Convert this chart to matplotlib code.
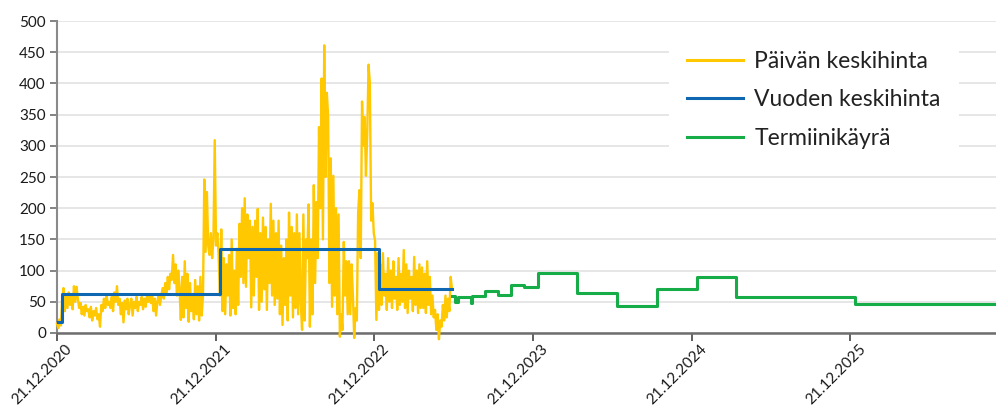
import matplotlib
matplotlib.use("Agg")
import matplotlib.pyplot as plt
import numpy as np
import pandas as pd

# ---------------- data ----------------
daily_start = "2020-12-21"
daily_step_days = 3
daily_values = [
    15, 8, 22, 12, 55, 72, 35, 62,
    40, 65, 45, 58, 38, 75, 50, 74,
    55, 40, 48, 30, 42, 28, 45, 35,
    38, 25, 42, 20, 35, 28, 40, 22,
    30, 10, 45, 35, 55, 40, 62, 45,
    50, 40, 58, 35, 65, 50, 75, 45,
    55, 30, 48, 17, 52, 38, 55, 30,
    45, 55, 28, 50, 40, 58, 35, 50,
    45, 58, 38, 55, 42, 60, 50, 62,
    48, 60, 35, 55, 28, 50, 62, 45,
    58, 72, 55, 80, 65, 90, 70, 95,
    85, 125, 80, 110, 60, 100, 70, 21,
    90, 25, 115, 40, 95, 18, 80, 35,
    60, 22, 85, 30, 75, 20, 90, 28,
    60, 246, 130, 226, 140, 125, 160, 120,
    150, 309, 140, 160, 125, 60, 166, 35,
    120, 30, 110, 60, 125, 28, 150, 40,
    100, 30, 135, 45, 175, 90, 200, 80,
    216, 74, 190, 120, 180, 41, 170, 60,
    180, 90, 199, 37, 160, 50, 185, 70,
    170, 37, 150, 80, 207, 60, 180, 45,
    160, 55, 180, 30, 140, 13, 120, 45,
    150, 20, 193, 60, 170, 25, 160, 40,
    190, 30, 160, 50, 5, 190, 20, 150,
    120, 206, 10, 150, 30, 237, 80, 210,
    120, 330, 200, 408, 150, 461, 250, 385,
    347, 80, 280, 42, 252, 60, 200, 30,
    190, -6, 30, 5, 146, 60, 115, 30,
    115, 30, 110, 60, -8, 40, 20, 192,
    229, 120, 371, 300, 346, 252, 320, 430,
    400, 180, 208, 160, 148, 21, 128, 37,
    110, 45, 128, 60, 95, 37, 120, 50,
    100, 40, 115, 55, 90, 37, 120, 45,
    95, 50, 133, 40, 110, 32, 100, 55,
    90, 35, 122, 45, 100, 32, 110, 40,
    105, 40, 95, 32, 115, 45, 90, 30,
    60, 25, 37, 5, 30, -10, 20, 10,
    45, 20, 60, 25, 55, 35, 90, 70,
]

year_dates = ["2020-12-21", "2021-01-01", "2022-01-01", "2023-01-01", "2023-06-19"]
year_values = [17, 62, 135, 71, 71]

fwd_dates = ["2023-06-19", "2023-06-24", "2023-07-03", "2023-07-31", "2023-08-02",
             "2023-09-01", "2023-10-01", "2023-11-01", "2023-12-01", "2024-01-01",
             "2024-04-01", "2024-07-01", "2024-10-01", "2025-01-01", "2025-04-01",
             "2026-01-01", "2026-11-21"]
fwd_values = [60, 50, 58, 48, 59, 67, 61, 77, 74, 96, 64.5, 44, 70.5, 90, 57, 46.5, 46.5]

tick_dates = ["2020-12-21", "2021-12-21", "2022-12-21", "2023-12-21", "2024-12-21", "2025-12-21"]
tick_labels = ["21.12.2020", "21.12.2021", "21.12.2022", "21.12.2023", "21.12.2024", "21.12.2025"]
y_ticks = [0, 50, 100, 150, 200, 250, 300, 350, 400, 450, 500]

labels = ["Päivän keskihinta", "Vuoden keskihinta", "Termiinikäyrä"]
colors = ["#FFC800", "#0F67B1", "#16AD48"]

# ---------------- plot ----------------
plt.rcParams['font.family'] = ['Lato', 'DejaVu Sans']

fig = plt.figure(figsize=(9.96, 4.09), dpi=100)
ax = fig.add_axes([57 / 996, (409 - 333) / 409, 939 / 996, 312 / 409])

d_dates = pd.date_range(daily_start, periods=len(daily_values), freq=f"{daily_step_days}D")
ax.plot(d_dates, daily_values, color=colors[0], lw=1.7, label=labels[0], clip_on=False, zorder=3)
ax.plot(pd.to_datetime(year_dates), year_values, color=colors[1], lw=2.2,
        drawstyle="steps-post", label=labels[1], zorder=4)
ax.plot(pd.to_datetime(fwd_dates), fwd_values, color=colors[2], lw=2.2,
        drawstyle="steps-post", label=labels[2], zorder=4)

ax.set_xlim(pd.Timestamp("2020-12-21"), pd.Timestamp("2026-11-21"))
ax.set_ylim(0, 500)
ax.set_yticks(y_ticks)
ax.set_yticklabels([str(v) for v in y_ticks], fontsize=11, color="#1a1a1a")
ax.set_xticks(pd.to_datetime(tick_dates))
ax.set_xticklabels([])
for d, lab in zip(pd.to_datetime(tick_dates), tick_labels):
    ax.annotate(lab, xy=(d, 0), xycoords=("data", "axes fraction"),
                xytext=(8, -9), textcoords="offset pixels",
                rotation=45, ha="right", va="top", rotation_mode="anchor",
                fontsize=11, color="#1a1a1a", annotation_clip=False)

ax.grid(axis="y", color="#E4E4E4", lw=1.3, zorder=0)
ax.set_axisbelow(True)
for s in ["top", "right"]:
    ax.spines[s].set_visible(False)
ax.spines["left"].set_color("#8a8a8a")
ax.spines["left"].set_linewidth(1.5)
ax.spines["bottom"].set_color("#6e6e6e")
ax.spines["bottom"].set_linewidth(1.8)
ax.tick_params(axis="y", length=5, width=1.2, color="#6e6e6e", pad=3)
ax.tick_params(axis="x", length=6, width=1.2, color="#444444", pad=4)

leg = ax.legend(loc="upper right", bbox_to_anchor=(0.9606, 0.962), fontsize=16.5,
                frameon=True, fancybox=False, facecolor="white", edgecolor="none",
                framealpha=1.0, handlelength=2.45, handletextpad=0.48,
                labelspacing=0.75, borderpad=0.8, borderaxespad=0.0)
for t in leg.get_texts():
    t.set_color("#222222")
for h in leg.get_lines():
    h.set_linewidth(2.2)

fig.savefig("out.png", dpi=100)
